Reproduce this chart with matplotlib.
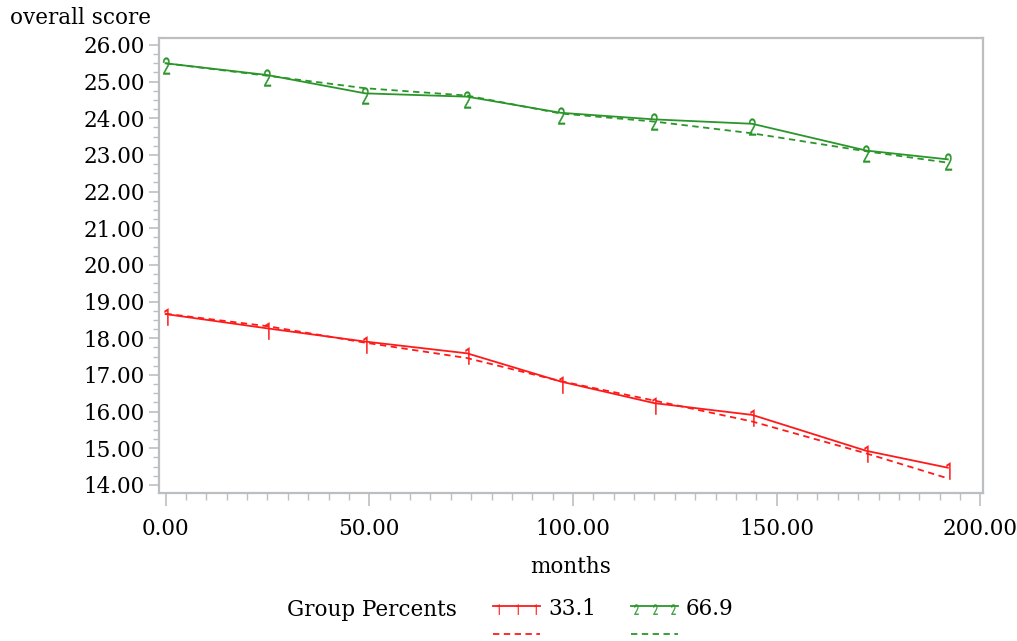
import matplotlib
matplotlib.use("Agg")
import matplotlib.pyplot as plt
from matplotlib.textpath import TextPath
from matplotlib.font_manager import FontProperties
from matplotlib.lines import Line2D
from matplotlib.ticker import MultipleLocator, FormatStrFormatter
import matplotlib.transforms as mtrans

# ---- data ----
months = [0, 25, 49, 74, 97, 120, 144, 172, 192]
g1_obs = [18.66, 18.27, 17.91, 17.59, 16.82, 16.23, 15.91, 14.93, 14.47]
g1_fit = [18.67, 18.33, 17.88, 17.46, 16.83, 16.30, 15.73, 14.86, 14.18]
g2_obs = [25.50, 25.18, 24.68, 24.59, 24.15, 23.97, 23.85, 23.12, 22.88]
g2_fit = [25.50, 25.16, 24.82, 24.62, 24.13, 23.91, 23.59, 23.10, 22.79]
group_labels = ["33.1", "66.9"]
group_marks = ["1", "2"]
y_ticks = [14, 15, 16, 17, 18, 19, 20, 21, 22, 23, 24, 25, 26]
x_ticks = [0, 50, 100, 150, 200]

RED = "#ff1a1a"
GREEN = "#2a962a"
SPINE = "#bcbfc2"
SERIF = "DejaVu Serif"
FS = 15.5


def glyph_marker(ch, xscale=0.62, drop=0.15):
    tp = TextPath((0, 0), ch, size=1, prop=FontProperties(family="Roboto"))
    ext = tp.get_extents()
    cx = (ext.x0 + ext.x1) / 2
    cy = (ext.y0 + ext.y1) / 2
    h = ext.height
    t = mtrans.Affine2D().translate(-cx, -cy - drop * h).scale(xscale, 1.0)
    return t.transform_path(tp)


fig = plt.figure(figsize=(10.17, 6.41), dpi=100)
L, R, T, B = 159, 983, 38, 493
ax = fig.add_axes([L / 1017, 1 - B / 641, (R - L) / 1017, (B - T) / 641])

series = [
    (g1_obs, g1_fit, RED, group_marks[0]),
    (g2_obs, g2_fit, GREEN, group_marks[1]),
]
for obs, fit, col, mk in series:
    ax.plot(months, fit, color=col, lw=1.3, ls=(0, (3.5, 2.5)), zorder=2)
    ax.plot(months, obs, color=col, lw=1.3, zorder=3,
            marker=glyph_marker(mk), markersize=16, markerfacecolor=col,
            markeredgecolor=col, markeredgewidth=0.2)

ax.set_xlim(-1.62, 200.64)
ax.set_ylim(13.78, 26.19)
ax.set_xticks(x_ticks)
ax.set_yticks(y_ticks)
ax.xaxis.set_minor_locator(MultipleLocator(5))
ax.yaxis.set_minor_locator(MultipleLocator(0.25))
ax.xaxis.set_major_formatter(FormatStrFormatter("%.2f"))
ax.yaxis.set_major_formatter(FormatStrFormatter("%.2f"))

for s in ax.spines.values():
    s.set_color(SPINE)
    s.set_linewidth(1.6)

ax.tick_params(axis="x", which="major", direction="out", length=9, width=1.2,
               color=SPINE, pad=9, labelsize=FS)
ax.tick_params(axis="x", which="minor", direction="out", length=5, width=1.0,
               color=SPINE)
ax.tick_params(axis="y", which="major", direction="out", length=7, width=1.2,
               color=SPINE, pad=3, labelsize=FS)
ax.tick_params(axis="y", which="minor", direction="out", length=4, width=1.0,
               color=SPINE)
for lab in ax.get_xticklabels() + ax.get_yticklabels():
    lab.set_family(SERIF)

# axis titles
fig.text(10 / 1017, 1 - 18 / 641, "overall score", family=SERIF, fontsize=FS,
         ha="left", va="center")
fig.text(571 / 1017, 1 - 567 / 641, "months", family=SERIF, fontsize=FS,
         ha="center", va="center")

# legend (drawn manually)
fig.text(287 / 1017, 1 - 610 / 641, "Group Percents", family=SERIF, fontsize=FS,
         ha="left", va="center")
leg_x = [(493, 540), (631, 678)]
for (x0, x1), (obs, fit, col, mk), lab in zip(leg_x, series, group_labels):
    xs = [x0 / 1017, x1 / 1017]
    fig.add_artist(Line2D(xs, [1 - 606 / 641] * 2, transform=fig.transFigure,
                          color=col, lw=1.3))
    mx = [(x0 + 5) / 1017, (x0 + x1) / 2 / 1017, (x1 - 5) / 1017]
    fig.add_artist(Line2D(mx, [1 - 606 / 641] * 3, transform=fig.transFigure,
                          ls="none", marker=glyph_marker(mk, drop=0.3),
                          markersize=12, markerfacecolor=col,
                          markeredgecolor=col, markeredgewidth=0.2))
    fig.add_artist(Line2D(xs, [1 - 634 / 641] * 2, transform=fig.transFigure,
                          color=col, lw=1.3, ls=(0, (3.5, 2.5))))
    fig.text((x1 + 8) / 1017, 1 - 609 / 641, lab, family=SERIF, fontsize=FS,
             ha="left", va="center")

fig.savefig("out.png", dpi=100)
